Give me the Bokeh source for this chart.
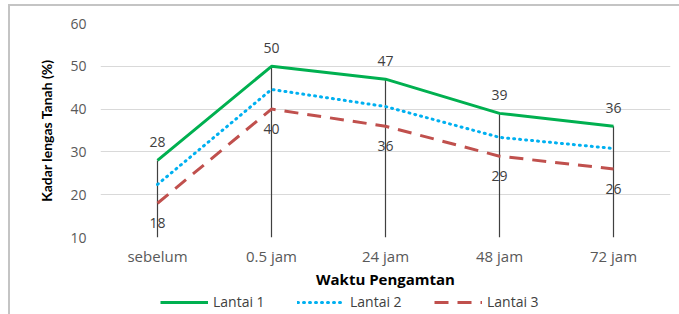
from bokeh.plotting import figure
from bokeh.layouts import column
from bokeh.models import ColumnDataSource, Range1d, FactorRange, Legend, LegendItem
from bokeh.core.properties import value
from bokeh.embed import file_html
from bokeh.resources import INLINE

categories = ["sebelum", "0.5 jam", "24 jam", "48 jam", "72 jam"]
lantai1 = [28, 50, 47, 39, 36]
lantai2 = [22.4, 44.6, 40.6, 33.4, 30.8]
lantai3 = [18, 40, 36, 29, 26]
labels1 = ["28", "50", "47", "39", "36"]
labels3 = ["18", "40", "36", "29", "26"]
series_names = ["Lantai 1", "Lantai 2", "Lantai 3"]
y_ticks = [10, 20, 30, 40, 50, 60]

FONT = "Open Sans"
VFONT = "Lato"
C1, C2, C3 = "#00b050", "#00b0f0", "#c0504d"

src = ColumnDataSource(dict(cat=categories, l1=lantai1, l2=lantai2, l3=lantai3,
                            t1=labels1, t3=labels3, base=[y_ticks[0]] * len(categories)))

p = figure(x_range=FactorRange(*categories, range_padding=0), y_range=Range1d(10, 60),
           width=669, height=286, output_backend="svg", toolbar_location=None,
           min_border_left=90, min_border_right=9, min_border_top=17, min_border_bottom=55)
p.outline_line_color = None

p.xgrid.grid_line_color = None
p.ygrid.grid_line_color = "#d9d9d9"
p.ygrid.grid_line_width = 1.2
p.yaxis.ticker = y_ticks

for ax in (p.xaxis[0], p.yaxis[0]):
    ax.axis_line_color = None
    ax.major_tick_line_color = None
    ax.minor_tick_line_color = None
    ax.major_tick_out = 0
    ax.major_tick_in = 0
    ax.major_label_text_font = FONT
    ax.major_label_text_font_size = "14px"
    ax.major_label_text_color = "#595959"
    ax.axis_label_text_font_style = "bold"
    ax.axis_label_text_color = "#000000"

p.yaxis.axis_label = "Kadar lengas Tanah (%)"
p.yaxis.axis_label_text_font = VFONT
p.yaxis.axis_label_text_font_size = "14px"
p.yaxis.major_label_standoff = 14
p.yaxis.axis_label_standoff = 12
p.xaxis.axis_label = "Waktu Pengamtan"
p.xaxis.axis_label_text_font = FONT
p.xaxis.axis_label_text_font_size = "15px"
p.xaxis.major_label_text_font_size = "15px"
p.xaxis.major_label_standoff = 8
p.xaxis.axis_label_standoff = 0

p.segment(x0="cat", y0="base", x1="cat", y1="l1", source=src, line_color="#404040", line_width=1.2)

p.line("cat", "l1", source=src, line_color=C1, line_width=3)
p.line("cat", "l2", source=src, line_color=C2, line_width=3, line_dash="1 5", line_cap="round")
p.line("cat", "l3", source=src, line_color=C3, line_width=3, line_dash="14 9")

p.text("cat", "l1", text="t1", source=src, text_font=value(FONT), text_font_size="14px",
       text_color="#404040", text_align="center", text_baseline="middle", y_offset=-18)
p.text("cat", "l3", text="t3", source=src, text_font=value(FONT), text_font_size="14px",
       text_color="#404040", text_align="center", text_baseline="middle", y_offset=20)

# legend strip (its frame is aligned with the main plot frame)
q = figure(x_range=Range1d(0, 1), y_range=Range1d(0, 1), width=669, height=22,
           output_backend="svg", toolbar_location=None, x_axis_type=None, y_axis_type=None,
           min_border=0)
q.outline_line_color = None
q.xgrid.grid_line_color = None
q.ygrid.grid_line_color = None
e1 = q.line([-2, -1], [-2, -1], line_color=C1, line_width=3)
e2 = q.line([-2, -1], [-2, -1], line_color=C2, line_width=3, line_dash="1 5", line_cap="round")
e3 = q.line([-2, -1], [-2, -1], line_color=C3, line_width=3, line_dash="14 9")
legend = Legend(items=[LegendItem(label=series_names[0], renderers=[e1]),
                       LegendItem(label=series_names[1], renderers=[e2]),
                       LegendItem(label=series_names[2], renderers=[e3])],
                orientation="horizontal", location=(60, 3),
                glyph_width=48, glyph_height=14, label_standoff=5, label_width=80, spacing=4,
                padding=0, margin=0, border_line_color=None, background_fill_alpha=0,
                label_text_font=FONT, label_text_font_size="14px", label_text_color="#404040")
q.add_layout(legend)

page = column(p, q, spacing=0)
page.styles = {"border-top": "2px solid #c4c4c4", "border-left": "2px solid #c4c4c4",
               "margin-left": "8px", "margin-top": "4px"}

open("out.html", "w").write(file_html(page, INLINE))
